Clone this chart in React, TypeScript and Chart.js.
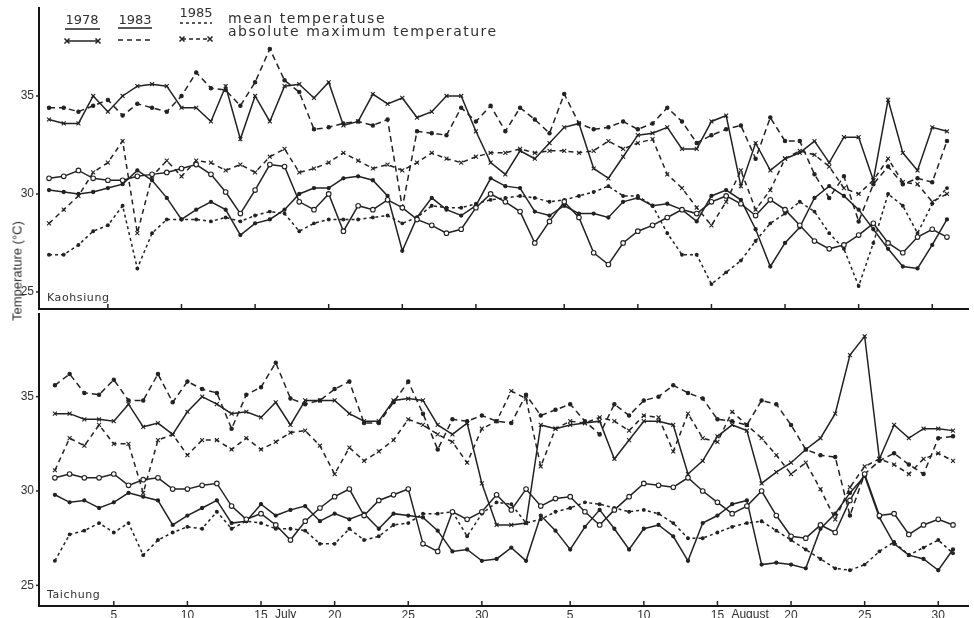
import React, { useEffect, useRef } from 'react';
import { Chart, registerables } from 'chart.js';

Chart.register(...registerables);

// ---------- data (day index 0 = 1 July ... 61 = 31 August) ----------
const X_TICK_DAYS = [4, 9, 14, 19, 24, 29, 35, 40, 45, 50, 55, 60];
const X_TICK_LABELS = ['5', '10', '15', '20', '25', '30', '5', '10', '15', '20', '25', '30'];
const MONTH_NAMES = ['July', 'August'];
const MONTH_AT = [14, 45];
const Y_TICKS = [25, 30, 35];
const PANELS = ['Kaohsiung', 'Taichung'];
const YEARS = ['1978', '1983', '1985'];

// Kaohsiung
const K_MAX_1978 = [
  33.8, 33.6, 33.6, 35.0, 34.2, 35.0, 35.5, 35.6, 35.5, 34.4,
  34.4, 33.7, 35.5, 32.8, 35.0, 33.7, 35.5, 35.6, 34.9, 35.7,
  33.5, 33.7, 35.1, 34.6, 34.9, 33.9, 34.2, 35.0, 35.0, 33.2,
  31.6, 31.0, 32.2, 31.8, 32.6, 33.4, 33.6, 31.3, 30.8, 31.9,
  33.0, 33.1, 33.4, 32.3, 32.3, 33.7, 34.0, 30.4, 32.6, 31.2,
  31.8, 32.1, 32.7, 31.6, 32.9, 32.9, 30.7, 34.8, 32.1, 31.2, 33.4, 33.2,
];
const K_MAX_1983 = [
  34.4, 34.4, 34.2, 34.5, 34.8, 34.0, 34.6, 34.4, 34.2, 35.0,
  36.2, 35.4, 35.3, 34.5, 35.7, 37.4, 35.8, 35.2, 33.3, 33.4,
  33.6, 33.7, 33.5, 33.8, 29.3, 33.2, 33.1, 33.0, 34.4, 33.7,
  34.5, 33.2, 34.4, 33.8, 33.1, 35.1, 33.6, 33.3, 33.4, 33.7,
  33.3, 33.6, 34.4, 33.7, 32.6, 33.0, 33.3, 33.5, 31.8, 33.9,
  32.7, 32.7, 31.0, 29.8, 30.9, 28.6, 30.5, 31.4, 30.5, 30.8, 30.6, 32.7,
];
const K_MAX_1985 = [
  28.5, 29.2, 29.9, 31.1, 31.6, 32.7, 28.0, 30.9, 31.7, 30.9,
  31.7, 31.6, 31.2, 31.5, 31.1, 31.9, 32.3, 31.1, 31.3, 31.6,
  32.1, 31.7, 31.3, 31.5, 31.2, 31.6, 32.1, 31.8, 31.6, 31.9,
  32.1, 32.1, 32.3, 32.1, 32.2, 32.2, 32.1, 32.2, 32.7, 32.3,
  32.6, 32.8, 31.0, 30.3, 29.3, 28.4, 29.6, 31.2, 29.2, 30.2,
  31.8, 32.2, 32.0, 31.4, 30.3, 30.0, 30.7, 31.8, 30.6, 30.5, 29.6, 30.0,
];
const K_MEAN_1978 = [
  30.8, 30.9, 31.2, 30.8, 30.7, 30.7, 30.9, 31.0, 31.1, 31.3,
  31.5, 31.0, 30.1, 29.0, 30.2, 31.5, 31.4, 29.6, 29.2, 30.0,
  28.1, 29.4, 29.2, 29.7, 29.3, 28.7, 28.4, 28.0, 28.2, 29.3,
  30.0, 29.6, 29.1, 27.5, 28.6, 29.6, 28.8, 27.0, 26.4, 27.5,
  28.1, 28.4, 28.8, 29.2, 29.0, 29.6, 29.9, 29.5, 28.9, 29.7,
  29.2, 28.4, 27.6, 27.2, 27.4, 27.9, 28.5, 27.5, 27.0, 27.8, 28.2, 27.8,
];
const K_MEAN_1983 = [
  30.2, 30.1, 30.0, 30.1, 30.3, 30.5, 31.2, 30.7, 29.8, 28.7,
  29.2, 29.6, 29.2, 27.9, 28.5, 28.7, 29.2, 30.0, 30.3, 30.3,
  30.8, 30.9, 30.7, 29.9, 27.1, 28.8, 29.8, 29.2, 28.9, 29.4,
  30.8, 30.4, 30.3, 29.1, 28.9, 29.4, 29.0, 29.0, 28.8, 29.6,
  29.8, 29.4, 29.5, 29.2, 28.6, 29.9, 30.2, 29.7, 28.2, 26.3,
  27.5, 28.3, 29.8, 30.4, 29.9, 29.2, 28.2, 27.2, 26.3, 26.2, 27.4, 28.7,
];
const K_MEAN_1985 = [
  26.9, 26.9, 27.4, 28.1, 28.4, 29.4, 26.2, 28.0, 28.7, 28.7,
  28.7, 28.6, 28.8, 28.6, 28.9, 29.1, 29.0, 28.1, 28.5, 28.7,
  28.7, 28.7, 28.8, 28.9, 28.5, 28.8, 29.4, 29.3, 29.3, 29.5,
  29.7, 29.8, 29.9, 29.8, 29.6, 29.7, 29.9, 30.1, 30.4, 29.9,
  29.9, 29.4, 28.0, 26.9, 26.9, 25.4, 26.0, 26.6, 27.6, 28.5,
  29.0, 29.6, 29.1, 28.0, 27.2, 25.3, 27.5, 30.0, 29.4, 28.0, 29.5, 30.3,
];

// Taichung
const T_MAX_1978 = [
  34.1, 34.1, 33.8, 33.8, 33.7, 34.6, 33.4, 33.6, 33.0, 34.2,
  35.0, 34.6, 34.1, 34.2, 33.9, 34.7, 33.5, 34.8, 34.8, 34.8,
  34.1, 33.7, 33.7, 34.8, 34.9, 34.8, 33.5, 33.0, 33.6, 30.4,
  28.2, 28.2, 28.3, 33.5, 33.3, 33.5, 33.6, 33.7, 31.7, 32.7,
  33.7, 33.7, 33.5, 30.9, 31.6, 32.9, 33.5, 33.2, 30.4, 31.0,
  31.5, 32.2, 32.8, 34.1, 37.2, 38.2, 31.7, 33.5, 32.8, 33.3, 33.3, 33.2,
];
const T_MAX_1983 = [
  35.6, 36.2, 35.2, 35.1, 35.9, 34.8, 34.8, 36.2, 34.7, 35.8,
  35.4, 35.2, 33.3, 35.1, 35.5, 36.8, 34.9, 34.6, 34.8, 35.4,
  35.8, 33.6, 33.6, 34.7, 35.8, 34.1, 32.2, 33.8, 33.7, 34.0,
  33.7, 33.6, 35.1, 34.0, 34.3, 34.6, 33.7, 33.0, 34.6, 34.0,
  34.8, 35.0, 35.6, 35.2, 34.9, 33.8, 33.7, 33.5, 34.8, 34.6,
  33.5, 32.2, 31.9, 31.8, 28.7, 30.9, 31.6, 32.0, 31.4, 30.9, 32.8, 32.9,
];
const T_MAX_1985 = [
  31.1, 32.8, 32.4, 33.5, 32.5, 32.5, 29.9, 32.7, 33.0, 31.9,
  32.7, 32.7, 32.2, 32.8, 32.2, 32.6, 33.1, 33.2, 32.4, 30.9,
  32.3, 31.6, 32.1, 32.7, 33.8, 33.5, 33.0, 32.6, 31.5, 33.3,
  33.7, 35.3, 34.9, 31.3, 33.3, 33.7, 33.6, 33.9, 33.7, 33.2,
  34.0, 33.9, 32.1, 34.1, 32.8, 32.6, 34.2, 33.5, 32.8, 31.9,
  30.9, 31.5, 30.1, 28.5, 30.2, 31.3, 31.7, 31.4, 30.9, 31.7, 32.0, 31.6,
];
const T_MEAN_1978 = [
  30.7, 30.9, 30.7, 30.7, 30.9, 30.3, 30.6, 30.7, 30.1, 30.1,
  30.3, 30.4, 29.2, 28.5, 28.8, 28.2, 27.4, 28.4, 29.1, 29.7,
  30.1, 28.7, 29.5, 29.8, 30.1, 27.2, 26.8, 28.9, 28.5, 28.9,
  29.8, 29.0, 30.1, 29.2, 29.6, 29.7, 28.9, 28.2, 29.0, 29.7,
  30.4, 30.3, 30.2, 30.7, 30.0, 29.4, 28.8, 29.2, 30.0, 28.7,
  27.6, 27.5, 28.2, 27.8, 29.5, 30.9, 28.7, 28.8, 27.7, 28.2, 28.5, 28.2,
];
const T_MEAN_1983 = [
  29.8, 29.4, 29.5, 29.1, 29.4, 29.9, 29.7, 29.5, 28.2, 28.7,
  29.1, 29.5, 28.3, 28.4, 29.3, 28.7, 29.0, 29.2, 28.4, 28.8,
  28.5, 28.8, 28.0, 28.8, 28.7, 28.6, 27.9, 26.8, 26.9, 26.3,
  26.4, 27.0, 26.3, 28.7, 27.9, 26.9, 28.1, 29.0, 28.0, 26.9,
  28.0, 28.2, 27.6, 26.3, 28.3, 28.7, 29.3, 29.5, 26.1, 26.2,
  26.1, 25.9, 28.0, 28.8, 29.9, 30.8, 28.6, 27.2, 26.6, 26.4, 25.8, 26.9,
];
const T_MEAN_1985 = [
  26.3, 27.7, 27.9, 28.3, 27.8, 28.3, 26.6, 27.4, 27.8, 28.1,
  28.0, 28.9, 28.0, 28.4, 28.3, 28.0, 28.0, 27.9, 27.2, 27.2,
  28.0, 27.4, 27.6, 28.2, 28.3, 28.8, 28.8, 28.9, 27.6, 28.8,
  29.4, 29.3, 28.3, 28.5, 28.9, 29.1, 29.4, 29.3, 29.1, 28.9,
  29.0, 28.8, 28.3, 27.5, 27.5, 27.8, 28.1, 28.3, 28.4, 27.9,
  27.4, 26.9, 26.4, 25.9, 25.8, 26.1, 26.8, 27.3, 26.6, 27.0, 27.4, 26.7,
];

// ---------- styling ----------
const INK = '#222222';
const TEXT = '#303030';

type Style = { dash: number[]; point: string; radius: number; fill: string };
const STYLE_MEAN: Style[] = [
  { dash: [], point: 'circle', radius: 2.3, fill: '#ffffff' },
  { dash: [], point: 'circle', radius: 1.6, fill: INK },
  { dash: [3, 3], point: 'circle', radius: 1.4, fill: INK },
];
const STYLE_MAX: Style[] = [
  { dash: [], point: 'crossRot', radius: 2.8, fill: INK },
  { dash: [6, 4], point: 'circle', radius: 1.7, fill: INK },
  { dash: [5, 4], point: 'crossRot', radius: 2.8, fill: INK },
];

function datasets(means: number[][], maxes: number[][]) {
  const make = (values: number[], st: Style, label: string) => ({
    label,
    data: values.map((v, k) => ({ x: k, y: v })),
    borderColor: INK,
    borderWidth: 1.5,
    borderDash: st.dash,
    pointStyle: st.point,
    pointRadius: st.radius,
    pointBorderWidth: 1.1,
    pointBorderColor: INK,
    pointBackgroundColor: st.fill,
    fill: false,
    tension: 0,
  });
  return [
    ...means.map((v, i) => make(v, STYLE_MEAN[i], 'mean ' + YEARS[i])),
    ...maxes.map((v, i) => make(v, STYLE_MAX[i], 'max ' + YEARS[i])),
  ];
}

function cross(ctx: CanvasRenderingContext2D, x: number, y: number, r: number) {
  ctx.beginPath();
  ctx.moveTo(x - r, y - r); ctx.lineTo(x + r, y + r);
  ctx.moveTo(x - r, y + r); ctx.lineTo(x + r, y - r);
  ctx.stroke();
}
function seg(ctx: CanvasRenderingContext2D, x1: number, y1: number, x2: number, y2: number, dash: number[]) {
  ctx.setLineDash(dash);
  ctx.beginPath(); ctx.moveTo(x1, y1); ctx.lineTo(x2, y2); ctx.stroke();
  ctx.setLineDash([]);
}

function drawLegend(ctx: CanvasRenderingContext2D) {
  ctx.save();
  ctx.fillStyle = TEXT;
  ctx.strokeStyle = INK;
  ctx.lineWidth = 1.5;
  ctx.textBaseline = 'middle';
  ctx.textAlign = 'center';
  ctx.font = '13px "DejaVu Sans"';
  ctx.fillText(YEARS[0], 82, 21);
  ctx.fillText(YEARS[1], 135, 21);
  ctx.fillText(YEARS[2], 196, 14);
  seg(ctx, 65, 29, 100, 29, []);
  seg(ctx, 118, 28, 152, 28, []);
  seg(ctx, 180, 23, 212, 23, [3, 3]);
  seg(ctx, 66, 41, 99, 41, []);
  cross(ctx, 67, 41, 2.5); cross(ctx, 98, 41, 2.5);
  seg(ctx, 118, 40, 152, 40, [5, 4]);
  seg(ctx, 182, 39, 209, 39, [4, 3]);
  cross(ctx, 182, 39, 2.5); cross(ctx, 210, 39, 2.5);
  ctx.textAlign = 'left';
  ctx.font = '14px "DejaVu Sans"';
  (ctx as any).letterSpacing = '1.5px';
  ctx.fillText('mean temperatuse', 228, 19);
  ctx.fillText('absolute maximum temperature', 228, 32);
  ctx.restore();
}

function decorPlugin(panel: string, isTop: boolean) {
  return {
    id: 'decor',
    afterDraw(chart: any) {
      const ctx: CanvasRenderingContext2D = chart.ctx;
      const { left, bottom } = chart.chartArea;
      const xs = chart.scales.x;
      const ys = chart.scales.y;
      ctx.save();
      ctx.strokeStyle = INK;
      ctx.lineWidth = 1.5;
      X_TICK_DAYS.forEach((d) => {
        const px = xs.getPixelForValue(d);
        ctx.beginPath(); ctx.moveTo(px, bottom); ctx.lineTo(px, bottom - 5); ctx.stroke();
      });
      Y_TICKS.forEach((v) => {
        const py = ys.getPixelForValue(v);
        ctx.beginPath(); ctx.moveTo(left, py); ctx.lineTo(left - 3, py); ctx.stroke();
      });
      ctx.fillStyle = TEXT;
      ctx.font = '11px "DejaVu Sans"';
      (ctx as any).letterSpacing = '0.6px';
      ctx.textBaseline = 'middle';
      ctx.textAlign = 'left';
      ctx.fillText(panel, left + 8, bottom - 11);
      (ctx as any).letterSpacing = '0px';
      if (!isTop) {
        ctx.font = '12px "Liberation Sans"';
        ctx.textBaseline = 'top';
        MONTH_AT.forEach((d, i) => {
          ctx.fillText(MONTH_NAMES[i], xs.getPixelForValue(d) + 14, bottom + 3);
        });
      } else {
        drawLegend(ctx);
      }
      ctx.restore();
    },
  };
}

function config(isTop: boolean, means: number[][], maxes: number[][]) {
  const yMin = isTop ? 24.13 : 23.906;
  const yMax = isTop ? 39.49 : 39.375;
  const xMin = isTop ? -0.68 : -1.08;
  const xMax = isTop ? 62.49 : 62.08;
  return {
    type: 'line' as const,
    data: { datasets: datasets(means, maxes) },
    options: {
      responsive: false,
      maintainAspectRatio: false,
      animation: false as const,
      layout: { padding: { top: isTop ? 8 : 0, right: 2, left: 0, bottom: 0 } },
      plugins: { legend: { display: false }, tooltip: { enabled: false } },
      scales: {
        x: {
          type: 'linear' as const,
          min: xMin,
          max: xMax,
          grid: { display: false, drawTicks: false },
          border: { display: true, color: '#151515', width: 2 },
          afterBuildTicks: (s: any) => { s.ticks = X_TICK_DAYS.map((v) => ({ value: v })); },
          afterFit: (s: any) => {
            s.height = isTop ? 9 : 12;
            s.paddingLeft = 0; s.paddingRight = 0;
          },
          ticks: {
            display: !isTop,
            autoSkip: false,
            maxRotation: 0,
            padding: 2,
            color: TEXT,
            font: { family: '"Liberation Sans"', size: 12 },
            callback: (v: number) => X_TICK_LABELS[X_TICK_DAYS.indexOf(v)] ?? '',
          },
        },
        y: {
          type: 'linear' as const,
          min: yMin,
          max: yMax,
          grid: { display: false, drawTicks: false },
          border: { display: true, color: '#151515', width: 2 },
          afterBuildTicks: (s: any) => { s.ticks = Y_TICKS.map((v) => ({ value: v })); },
          afterFit: (s: any) => {
            s.width = 39;
            s.paddingTop = 0; s.paddingBottom = 0;
          },
          ticks: {
            padding: 5,
            color: TEXT,
            font: { family: '"Liberation Sans"', size: 12 },
            callback: (v: number) => String(v),
          },
        },
      },
    },
    plugins: [decorPlugin(isTop ? PANELS[0] : PANELS[1], isTop)],
  };
}

export default function App() {
  const topRef = useRef<HTMLCanvasElement>(null);
  const botRef = useRef<HTMLCanvasElement>(null);
  useEffect(() => {
    const top = new Chart(
      topRef.current as HTMLCanvasElement,
      config(true, [K_MEAN_1978, K_MEAN_1983, K_MEAN_1985], [K_MAX_1978, K_MAX_1983, K_MAX_1985]) as any,
    );
    const bot = new Chart(
      botRef.current as HTMLCanvasElement,
      config(false, [T_MEAN_1978, T_MEAN_1983, T_MEAN_1985], [T_MAX_1978, T_MAX_1983, T_MAX_1985]) as any,
    );
    return () => { top.destroy(); bot.destroy(); };
  }, []);
  return (
    <div style={{ position: 'fixed', left: 0, top: 0, width: 974, height: 618, background: '#fff', overflow: 'hidden' }}>
      <canvas ref={topRef} width={974} height={318} style={{ position: 'absolute', left: 0, top: 0 }} />
      <canvas ref={botRef} width={974} height={309} style={{ position: 'absolute', left: 0, top: 309 }} />
      <div
        style={{
          position: 'absolute', left: 17, top: 271,
          transform: 'translate(-50%, -50%) rotate(-90deg)',
          font: '13px "Liberation Sans"', color: TEXT, whiteSpace: 'nowrap',
        }}
      >
        Temperature (°C)
      </div>
    </div>
  );
}
